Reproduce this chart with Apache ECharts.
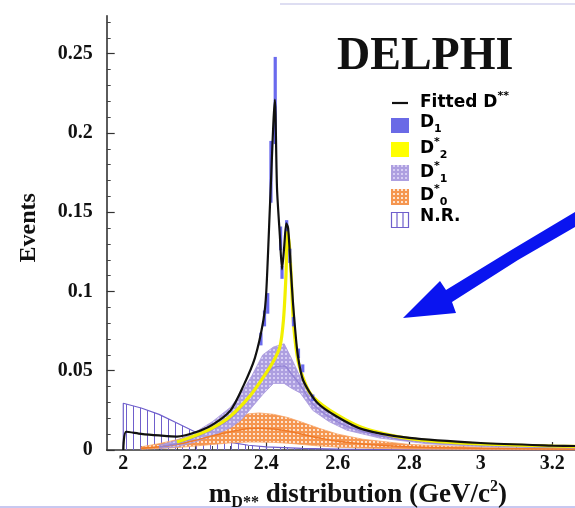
<!DOCTYPE html>
<html><head><meta charset="utf-8">
<script src="https://cdn.jsdelivr.net/npm/echarts@6/dist/echarts.min.js"></script>
<style>html,body{margin:0;padding:0;background:#fff}#c{width:575px;height:508px}</style>
</head><body><div id="c"></div>
<script>
// ---------- data ----------
const xMajorTicks = [2, 2.2, 2.4, 2.6, 2.8, 3, 3.2];
const xMinorTicks = [2, 2.05, 2.1, 2.15, 2.2, 2.25, 2.3, 2.35, 2.4, 2.45, 2.5, 2.55, 2.6, 2.65, 2.7, 2.75, 2.8, 2.85, 2.9, 2.95, 3, 3.05, 3.1, 3.15, 3.2, 3.25];
const yMajorTicks = [0, 0.05, 0.1, 0.15, 0.2, 0.25];
const yMinorTicks = [0.01, 0.02, 0.03, 0.04, 0.06, 0.07, 0.08, 0.09, 0.11, 0.12, 0.13, 0.14, 0.16, 0.17, 0.18, 0.19, 0.21, 0.22, 0.23, 0.24, 0.26, 0.27];

// Fitted total
const fitM = [2.000, 2.008, 2.05, 2.10, 2.15, 2.20, 2.25, 2.30, 2.335, 2.368, 2.392, 2.400, 2.411, 2.424, 2.430, 2.438, 2.444, 2.450, 2.456, 2.461, 2.467, 2.474, 2.480, 2.488, 2.503, 2.542, 2.598, 2.67, 2.8, 3.0, 3.2, 3.27];
const fitV = [0, 0.0115, 0.0102, 0.0092, 0.0085, 0.011, 0.016, 0.025, 0.040, 0.058, 0.082, 0.100, 0.158, 0.221, 0.165, 0.135, 0.114, 0.128, 0.143, 0.140, 0.120, 0.095, 0.078, 0.060, 0.044, 0.030, 0.021, 0.013, 0.0076, 0.0044, 0.0028, 0.0025];

// D1 (bins: centre, low, high)
const d1M  = [2.385, 2.395, 2.404, 2.413, 2.425, 2.440, 2.444, 2.457, 2.466, 2.476, 2.490, 2.502, 2.530];
const d1Lo = [0.066, 0.078, 0.086, 0.156, 0.193, 0.126, 0.108, 0.138, 0.118, 0.078, 0.058, 0.049, 0.031];
const d1Hi = [0.074, 0.088, 0.099, 0.195, 0.248, 0.141, 0.116, 0.145, 0.127, 0.084, 0.064, 0.054, 0.035];

// D*2
const d2M = [2.15, 2.20, 2.25, 2.298, 2.354, 2.392, 2.420, 2.438, 2.448, 2.455, 2.459, 2.465, 2.470, 2.476, 2.490, 2.522, 2.578, 2.67, 2.8, 3.0, 3.27];
const d2V = [0.005, 0.009, 0.014, 0.021, 0.034, 0.046, 0.056, 0.065, 0.082, 0.110, 0.138, 0.128, 0.108, 0.080, 0.055, 0.036, 0.025, 0.014, 0.0072, 0.0038, 0.0022];

// D*1 band
const d1sM  = [2.10, 2.15, 2.20, 2.25, 2.30, 2.33, 2.36, 2.39, 2.42, 2.45, 2.47, 2.495, 2.53, 2.575, 2.625, 2.718, 2.85, 3.0, 3.27];
const d1sHi = [0.003, 0.006, 0.011, 0.018, 0.027, 0.036, 0.047, 0.060, 0.065, 0.067, 0.058, 0.046, 0.033, 0.025, 0.018, 0.0105, 0.0065, 0.004, 0.002];
const d1sC  = [0.002, 0.004, 0.008, 0.013, 0.020, 0.027, 0.036, 0.045, 0.052, 0.053, 0.048, 0.041, 0.029, 0.021, 0.015, 0.009, 0.005, 0.003, 0.0015];
const d1sLo = [0.001, 0.002, 0.005, 0.009, 0.014, 0.019, 0.027, 0.035, 0.042, 0.042, 0.039, 0.036, 0.025, 0.018, 0.0125, 0.0075, 0.004, 0.0022, 0.001];

// D*0 band
const d0M  = [2.05, 2.10, 2.15, 2.20, 2.25, 2.30, 2.35, 2.38, 2.42, 2.46, 2.50, 2.55, 2.60, 2.67, 2.8, 3.0, 3.27];
const d0C  = [0.001, 0.002, 0.0035, 0.006, 0.009, 0.0115, 0.0135, 0.0138, 0.0132, 0.012, 0.010, 0.0075, 0.0055, 0.0038, 0.002, 0.001, 0.0005];
const d0Hi = [0.002, 0.004, 0.0065, 0.010, 0.0145, 0.0195, 0.0228, 0.0234, 0.0225, 0.0205, 0.0175, 0.0135, 0.010, 0.0068, 0.0035, 0.0017, 0.0008];
const d0Lo = [0.0005, 0.001, 0.0015, 0.0025, 0.0035, 0.0045, 0.005, 0.005, 0.0048, 0.0043, 0.0035, 0.0025, 0.0018, 0.0012, 0.0006, 0.0003, 0.0001];

// Non resonant
const nrM = [2.000, 2.000, 2.05, 2.10, 2.15, 2.20, 2.25, 2.30, 2.35, 2.40, 2.50, 2.60, 2.80, 3.0, 3.27];
const nrV = [0, 0.0295, 0.0265, 0.0225, 0.017, 0.0115, 0.0075, 0.0048, 0.003, 0.002, 0.001, 0.0006, 0.0003, 0.0002, 0.0001];

// ---------- helpers ----------
const zip = (a, b) => a.map((v, i) => [v, b[i]]);
function pattern(w, h, draw) {
  const c = document.createElement('canvas'); c.width = w; c.height = h;
  draw(c.getContext('2d')); return { image: c, repeat: 'repeat' };
}
const purplePat = pattern(4, 4, ctx => { ctx.fillStyle = '#ad9fe0'; ctx.fillRect(0,0,4,4); ctx.fillStyle = '#d6cdf4'; ctx.fillRect(1,1,2,2); });
const orangePat = pattern(4, 4, ctx => { ctx.fillStyle = '#f59650'; ctx.fillRect(0,0,4,4); ctx.fillStyle = '#fde3cf'; ctx.fillRect(1,1,2,2); });
const nrPat = pattern(7, 4, ctx => { ctx.fillStyle = '#6f5fcc'; ctx.fillRect(0,0,1,4); });

function bandSeries(name, M, Lo, Hi, fill, edge) {
  return {
    type: 'custom', name, z: 2,
    data: M.map((m, i) => [m, Lo[i], Hi[i]]),
    encode: { x: 0, y: [1, 2] },
    renderItem(params, api) {
      if (params.dataIndex !== 0) return null;
      const top = M.map((m, i) => api.coord([m, Hi[i]]));
      const bot = M.map((m, i) => api.coord([m, Lo[i]])).reverse();
      return { type: 'polygon', shape: { points: top.concat(bot) }, style: { fill, stroke: edge, lineWidth: 0.8, lineJoin: 'round' } };
    }
  };
}

const serif = '"Liberation Serif", "DejaVu Serif", serif';
const sans = '"DejaVu Sans", "Liberation Sans", sans-serif';
const xMin = 1.9536, xMax = 3.2635, yMax = 0.274;

const chart = echarts.init(document.getElementById('c'), null, { renderer: 'canvas' });

const legRich = {
  b: { fontFamily: sans, fontWeight: 'bold', fontSize: 17, color: '#111', lineHeight: 24, verticalAlign: 'middle' },
  sub: { fontFamily: sans, fontWeight: 'bold', fontSize: 11, color: '#111', lineHeight: 24, verticalAlign: 'bottom' },
  sup: { fontFamily: sans, fontWeight: 'bold', fontSize: 11, color: '#111', lineHeight: 24, verticalAlign: 'top' }
};
const legendRows = [
  ['{b|Fitted D}{sup|**}', 103],
  ['{b|D}{sub|1}', 126],
  ['{b|D}{sup|*}{sub|2}', 149],
  ['{b|D}{sup|*}{sub|1}', 173],
  ['{b|D}{sup|*}{sub|0}', 196],
  ['{b|N.R.}', 220]
];

const graphics = [
  { type: 'text', left: 337, top: 34, style: { text: 'DELPHI', font: 'bold 46px ' + serif, fill: '#111' } },
  { type: 'line', shape: { x1: 392, y1: 103, x2: 408, y2: 103 }, style: { stroke: '#111', lineWidth: 2.2 } },
  { type: 'rect', shape: { x: 391, y: 118, width: 18, height: 15 }, style: { fill: '#6a6ae6' } },
  { type: 'rect', shape: { x: 391, y: 142, width: 18, height: 15 }, style: { fill: '#ffff00' } },
  { type: 'rect', shape: { x: 391, y: 165, width: 18, height: 16 }, style: { fill: purplePat } },
  { type: 'rect', shape: { x: 391, y: 189, width: 18, height: 16 }, style: { fill: orangePat } },
  { type: 'rect', shape: { x: 391.5, y: 212.5, width: 17, height: 15 }, style: { fill: '#fff', stroke: '#6f5fcc', lineWidth: 1.2 } },
  { type: 'line', shape: { x1: 397, y1: 213, x2: 397, y2: 227 }, style: { stroke: '#6f5fcc', lineWidth: 1.2 } },
  { type: 'line', shape: { x1: 403, y1: 213, x2: 403, y2: 227 }, style: { stroke: '#6f5fcc', lineWidth: 1.2 } },
  // blue arrow annotation
  { type: 'polygon', shape: { points: [[575, 212], [513, 249], [446, 290], [440, 281], [403, 318], [456, 313], [452, 302], [518, 260], [575, 227]] }, style: { fill: '#0a14f0' } },
  { type: 'line', shape: { x1: 280, y1: 4, x2: 575, y2: 4 }, style: { stroke: '#dedef2', lineWidth: 2 } },
  { type: 'line', shape: { x1: 0, y1: 507, x2: 575, y2: 507 }, style: { stroke: '#c8c8f0', lineWidth: 2 } }
];
legendRows.forEach(([t, y]) => graphics.push({ type: 'text', left: 420, top: y - 12, style: { text: t, rich: legRich } }));

const axisCommon = { min: xMin, max: xMax, splitLine: { show: false } };
const option = {
  animation: false,
  backgroundColor: '#fff',
  grid: { left: 106.7, right: 0, top: 15.7, bottom: 58, containLabel: false, outerBoundsMode: 'none' },
  xAxis: [
    Object.assign({}, axisCommon, {
      type: 'value', position: 'bottom',
      axisLine: { lineStyle: { color: '#333', width: 1.6 } },
      axisTick: { inside: true, length: 8, customValues: xMajorTicks, lineStyle: { color: '#333', width: 1.2 } },
      axisLabel: { customValues: xMajorTicks, margin: 4, fontFamily: serif, fontWeight: 'bold', fontSize: 20, color: '#111' },
      name: '{m|m}{sub|D**}{t| distribution (GeV/c}{sup|2}{t|)}',
      nameLocation: 'middle', nameGap: 28,
      nameTextStyle: {
        padding: [0, 0, 0, 34],
        rich: {
          m: { fontFamily: serif, fontWeight: 'bold', fontSize: 27, color: '#111', lineHeight: 32, verticalAlign: 'middle' },
          t: { fontFamily: serif, fontWeight: 'bold', fontSize: 27, color: '#111', lineHeight: 32, verticalAlign: 'middle' },
          sub: { fontFamily: serif, fontWeight: 'bold', fontSize: 16, color: '#111', lineHeight: 32, verticalAlign: 'bottom' },
          sup: { fontFamily: serif, fontWeight: 'bold', fontSize: 16, color: '#111', lineHeight: 32, verticalAlign: 'top' }
        }
      }
    }),
    Object.assign({}, axisCommon, {
      type: 'value', position: 'bottom',
      axisLine: { show: false },
      axisTick: { inside: true, length: 4, customValues: xMinorTicks, lineStyle: { color: '#444', width: 1 } },
      axisLabel: { show: false }
    })
  ],
  yAxis: [
    {
      type: 'value', min: 0, max: yMax, position: 'left', splitLine: { show: false },
      axisLine: { show: true, lineStyle: { color: '#333', width: 1.6 } },
      axisTick: { show: true, inside: true, length: 8, customValues: yMajorTicks, lineStyle: { color: '#333', width: 1.2 } },
      axisLabel: { customValues: yMajorTicks, margin: 14, fontFamily: serif, fontWeight: 'bold', fontSize: 20, color: '#111' },
      name: 'Events', nameLocation: 'middle', nameRotate: 90, nameGap: 66,
      nameTextStyle: { fontFamily: serif, fontWeight: 'bold', fontSize: 24, color: '#111', padding: [0, 0, 0, 10] }
    },
    {
      type: 'value', min: 0, max: yMax, position: 'left', splitLine: { show: false },
      axisLine: { show: false },
      axisTick: { show: true, inside: true, length: 4, customValues: yMinorTicks, lineStyle: { color: '#444', width: 1 } },
      axisLabel: { show: false }
    }
  ],
  graphic: graphics,
  series: [
    { type: 'line', name: 'N.R.', data: zip(nrM, nrV), symbol: 'none', z: 1,
      lineStyle: { color: '#6f5fcc', width: 1.2 }, areaStyle: { color: nrPat, opacity: 1 } },
    bandSeries("D*0", d0M, d0Lo, d0Hi, orangePat, '#f7a466'),
    { type: 'line', name: 'D*0 centre', data: zip(d0M, d0C), symbol: 'none', smooth: 0.3, z: 3,
      lineStyle: { color: '#f07a28', width: 1.5 } },
    bandSeries("D*1", d1sM, d1sLo, d1sHi, purplePat, '#a898dc'),
    { type: 'line', name: 'D*1 centre', data: zip(d1sM, d1sC), symbol: 'none', smooth: 0.3, z: 3,
      lineStyle: { color: '#9484d6', width: 1.5 } },
    { type: 'line', name: 'D*2', data: zip(d2M, d2V), symbol: 'none', smooth: 0.25, z: 4,
      lineStyle: { color: '#f2f000', width: 3.2 } },
    { type: 'custom', name: 'D1', z: 5,
      data: d1M.map((m, i) => [m, d1Lo[i], d1Hi[i]]),
      encode: { x: 0, y: [1, 2] },
      renderItem(params, api) {
        const m = api.value(0);
        const p1 = api.coord([m - 0.0045, api.value(2)]);
        const p2 = api.coord([m + 0.0045, api.value(1)]);
        return { type: 'rect', shape: { x: p1[0], y: p1[1], width: p2[0] - p1[0], height: p2[1] - p1[1] }, style: { fill: '#6a6aee' } };
      } },
    { type: 'line', name: 'Fitted', data: zip(fitM, fitV), symbol: 'none', smooth: 0.25, z: 6,
      lineStyle: { color: '#111', width: 2.2 } }
  ]
};
chart.setOption(option);
</script>
</body></html>
